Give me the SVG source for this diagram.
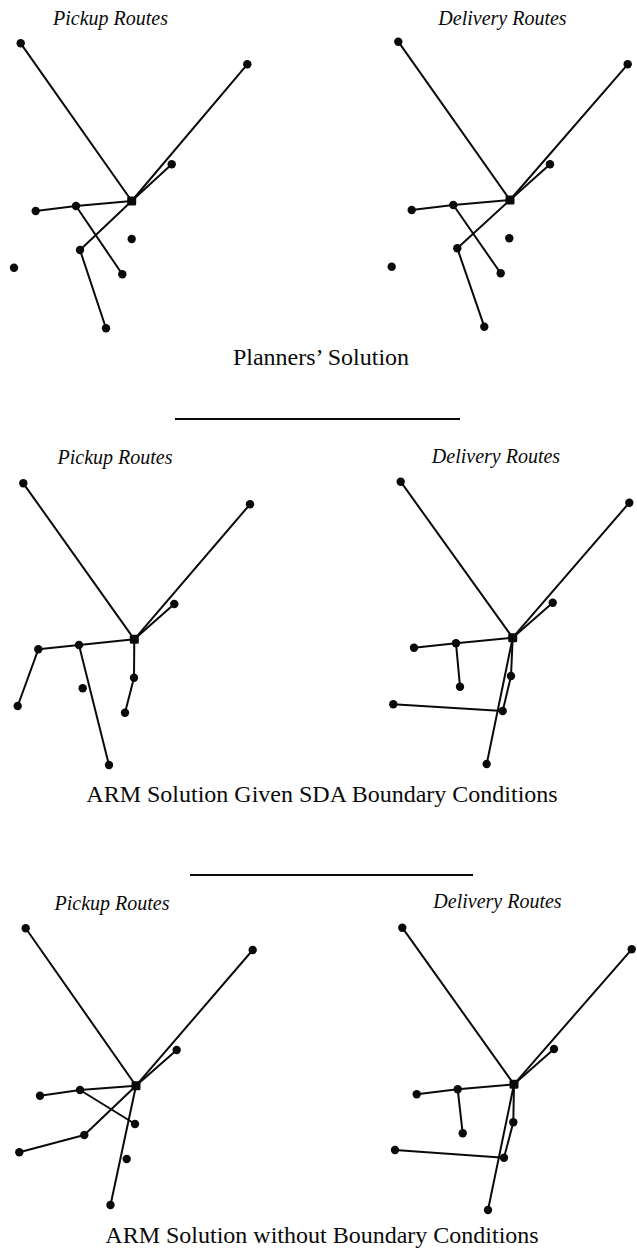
<svg xmlns="http://www.w3.org/2000/svg" width="637" height="1258" viewBox="0 0 637 1258">
  <style>
    .edge { stroke: #0a0a0a; stroke-width: 2; stroke-linecap: round; fill: none; }
    .dot { fill: #0a0a0a; }
    .depot { fill: #0a0a0a; }
    .head { font-family: "Liberation Serif", "Times New Roman", serif; font-style: italic; font-size: 20px; fill: #0a0a0a; text-anchor: middle; }
    .cap { font-family: "Liberation Serif", "Times New Roman", serif; font-size: 24px; fill: #0a0a0a; text-anchor: middle; }
    .rule { stroke: #0a0a0a; stroke-width: 2; }
  </style>
  <rect width="637" height="1258" fill="#fff"/>

  <!-- headings and captions -->
  <g id="labels">
    <text class="head" x="110.5" y="25">Pickup Routes</text>
    <text class="head" x="502.5" y="25">Delivery Routes</text>
    <text class="cap" x="321" y="365">Planners’ Solution</text>
    <line class="rule" x1="175" y1="419" x2="460" y2="419"/>
    <text class="head" x="115" y="464">Pickup Routes</text>
    <text class="head" x="496" y="463">Delivery Routes</text>
    <text class="cap" x="322" y="802">ARM Solution Given SDA Boundary Conditions</text>
    <line class="rule" x1="190" y1="875" x2="473" y2="875"/>
    <text class="head" x="112" y="910">Pickup Routes</text>
    <text class="head" x="497.5" y="908">Delivery Routes</text>
    <text class="cap" x="322" y="1243">ARM Solution without Boundary Conditions</text>
  </g>

  <!-- route segments -->
  <g id="connectors">
    <!-- planners: pickup -->
    <g id="p1-edges">
      <line class="edge" x1="20.7" y1="43.3" x2="131.7" y2="201"/>
      <line class="edge" x1="131.7" y1="201" x2="247.3" y2="64.3"/>
      <line class="edge" x1="131.7" y1="201" x2="171.7" y2="164.3"/>
      <line class="edge" x1="35.7" y1="211" x2="76" y2="206"/>
      <line class="edge" x1="76" y1="206" x2="131.7" y2="201"/>
      <line class="edge" x1="76" y1="206" x2="122.3" y2="274.3"/>
      <line class="edge" x1="131.7" y1="201" x2="80" y2="250"/>
      <line class="edge" x1="80" y1="250" x2="106" y2="328.3"/>
    </g>
    <!-- planners: delivery -->
    <g id="p2-edges">
      <line class="edge" x1="398.3" y1="41.7" x2="510" y2="200"/>
      <line class="edge" x1="510" y1="200" x2="627.7" y2="64.3"/>
      <line class="edge" x1="510" y1="200" x2="550" y2="164.3"/>
      <line class="edge" x1="411.7" y1="210" x2="453.3" y2="205"/>
      <line class="edge" x1="453.3" y1="205" x2="510" y2="200"/>
      <line class="edge" x1="453.3" y1="205" x2="500.7" y2="273.3"/>
      <line class="edge" x1="510" y1="200" x2="457.3" y2="248.3"/>
      <line class="edge" x1="457.3" y1="248.3" x2="484.3" y2="326.7"/>
    </g>
    <!-- ARM with SDA boundary: pickup -->
    <g id="p3-edges">
      <line class="edge" x1="23.3" y1="483.3" x2="134.3" y2="639.3"/>
      <line class="edge" x1="134.3" y1="639.3" x2="250" y2="504.3"/>
      <line class="edge" x1="134.3" y1="639.3" x2="174.3" y2="604"/>
      <line class="edge" x1="38.3" y1="649.3" x2="79" y2="645"/>
      <line class="edge" x1="79" y1="645" x2="134.3" y2="639.3"/>
      <line class="edge" x1="38.3" y1="649.3" x2="17.7" y2="706"/>
      <line class="edge" x1="79" y1="645" x2="109" y2="765"/>
      <line class="edge" x1="134.3" y1="639.3" x2="134" y2="677.7"/>
      <line class="edge" x1="134" y1="677.7" x2="125" y2="712.7"/>
    </g>
    <!-- ARM with SDA boundary: delivery -->
    <g id="p4-edges">
      <line class="edge" x1="400.7" y1="481.7" x2="512.7" y2="637.7"/>
      <line class="edge" x1="512.7" y1="637.7" x2="629.3" y2="502.7"/>
      <line class="edge" x1="512.7" y1="637.7" x2="552.7" y2="602.7"/>
      <line class="edge" x1="414" y1="647.7" x2="456" y2="643.3"/>
      <line class="edge" x1="456" y1="643.3" x2="512.7" y2="637.7"/>
      <line class="edge" x1="456" y1="643.3" x2="460" y2="686.7"/>
      <line class="edge" x1="393.3" y1="704.3" x2="502.7" y2="711"/>
      <line class="edge" x1="512.7" y1="637.7" x2="511" y2="676"/>
      <line class="edge" x1="511" y1="676" x2="502.7" y2="711"/>
      <line class="edge" x1="512.7" y1="637.7" x2="486.7" y2="764"/>
    </g>
    <!-- ARM without boundary: pickup -->
    <g id="p5-edges">
      <line class="edge" x1="25.7" y1="928.3" x2="136" y2="1085.7"/>
      <line class="edge" x1="136" y1="1085.7" x2="252.7" y2="950"/>
      <line class="edge" x1="136" y1="1085.7" x2="176.7" y2="1050"/>
      <line class="edge" x1="40" y1="1095.7" x2="80" y2="1090"/>
      <line class="edge" x1="80" y1="1090" x2="136" y2="1085.7"/>
      <line class="edge" x1="80" y1="1090" x2="135" y2="1124"/>
      <line class="edge" x1="136" y1="1085.7" x2="84.3" y2="1135"/>
      <line class="edge" x1="84.3" y1="1135" x2="19.3" y2="1152.3"/>
      <line class="edge" x1="136" y1="1085.7" x2="110.5" y2="1205"/>
    </g>
    <!-- ARM without boundary: delivery -->
    <g id="p6-edges">
      <line class="edge" x1="402.3" y1="927.7" x2="514" y2="1084.3"/>
      <line class="edge" x1="514" y1="1084.3" x2="631.7" y2="949.3"/>
      <line class="edge" x1="514" y1="1084.3" x2="554" y2="1049"/>
      <line class="edge" x1="416.7" y1="1094.3" x2="457.7" y2="1089.3"/>
      <line class="edge" x1="457.7" y1="1089.3" x2="514" y2="1084.3"/>
      <line class="edge" x1="457.7" y1="1089.3" x2="462.7" y2="1133.3"/>
      <line class="edge" x1="395" y1="1150" x2="504" y2="1157.7"/>
      <line class="edge" x1="514" y1="1084.3" x2="513.3" y2="1122.3"/>
      <line class="edge" x1="513.3" y1="1122.3" x2="504" y2="1157.7"/>
      <line class="edge" x1="514" y1="1084.3" x2="488" y2="1210"/>
    </g>
  </g>

  <!-- stops (circles) and depots (squares) -->
  <g id="p1-nodes">
    <g id="p1-A"><circle class="dot" cx="20.7" cy="43.3" r="4.2"/></g>
    <g id="p1-B"><circle class="dot" cx="247.3" cy="64.3" r="4.2"/></g>
    <g id="p1-C"><circle class="dot" cx="171.7" cy="164.3" r="4.2"/></g>
    <g id="p1-D"><rect class="depot" x="127.2" y="196.5" width="9" height="9" rx="1.5"/></g>
    <g id="p1-E"><circle class="dot" cx="35.7" cy="211" r="4.2"/></g>
    <g id="p1-F"><circle class="dot" cx="76" cy="206" r="4.2"/></g>
    <g id="p1-G"><circle class="dot" cx="131.7" cy="239" r="4.2"/></g>
    <g id="p1-H"><circle class="dot" cx="80" cy="250" r="4.2"/></g>
    <g id="p1-I"><circle class="dot" cx="14" cy="267.7" r="4.2"/></g>
    <g id="p1-J"><circle class="dot" cx="122.3" cy="274.3" r="4.2"/></g>
    <g id="p1-K"><circle class="dot" cx="106" cy="328.3" r="4.2"/></g>
  </g>
  <g id="p2-nodes">
    <g id="p2-A"><circle class="dot" cx="398.3" cy="41.7" r="4.2"/></g>
    <g id="p2-B"><circle class="dot" cx="627.7" cy="64.3" r="4.2"/></g>
    <g id="p2-C"><circle class="dot" cx="550" cy="164.3" r="4.2"/></g>
    <g id="p2-D"><rect class="depot" x="505.5" y="195.5" width="9" height="9" rx="1.5"/></g>
    <g id="p2-E"><circle class="dot" cx="411.7" cy="210" r="4.2"/></g>
    <g id="p2-F"><circle class="dot" cx="453.3" cy="205" r="4.2"/></g>
    <g id="p2-G"><circle class="dot" cx="509.3" cy="238.3" r="4.2"/></g>
    <g id="p2-H"><circle class="dot" cx="457.3" cy="248.3" r="4.2"/></g>
    <g id="p2-I"><circle class="dot" cx="391.7" cy="266.7" r="4.2"/></g>
    <g id="p2-J"><circle class="dot" cx="500.7" cy="273.3" r="4.2"/></g>
    <g id="p2-K"><circle class="dot" cx="484.3" cy="326.7" r="4.2"/></g>
  </g>
  <g id="p3-nodes">
    <g id="p3-A"><circle class="dot" cx="23.3" cy="483.3" r="4.2"/></g>
    <g id="p3-B"><circle class="dot" cx="250" cy="504.3" r="4.2"/></g>
    <g id="p3-C"><circle class="dot" cx="174.3" cy="604" r="4.2"/></g>
    <g id="p3-D"><rect class="depot" x="129.8" y="634.8" width="9" height="9" rx="1.5"/></g>
    <g id="p3-E"><circle class="dot" cx="38.3" cy="649.3" r="4.2"/></g>
    <g id="p3-F"><circle class="dot" cx="79" cy="645" r="4.2"/></g>
    <g id="p3-G"><circle class="dot" cx="134" cy="677.7" r="4.2"/></g>
    <g id="p3-H"><circle class="dot" cx="82.7" cy="688.3" r="4.2"/></g>
    <g id="p3-I"><circle class="dot" cx="17.7" cy="706" r="4.2"/></g>
    <g id="p3-J"><circle class="dot" cx="125" cy="712.7" r="4.2"/></g>
    <g id="p3-K"><circle class="dot" cx="109" cy="765" r="4.2"/></g>
  </g>
  <g id="p4-nodes">
    <g id="p4-A"><circle class="dot" cx="400.7" cy="481.7" r="4.2"/></g>
    <g id="p4-B"><circle class="dot" cx="629.3" cy="502.7" r="4.2"/></g>
    <g id="p4-C"><circle class="dot" cx="552.7" cy="602.7" r="4.2"/></g>
    <g id="p4-D"><rect class="depot" x="508.2" y="633.2" width="9" height="9" rx="1.5"/></g>
    <g id="p4-E"><circle class="dot" cx="414" cy="647.7" r="4.2"/></g>
    <g id="p4-F"><circle class="dot" cx="456" cy="643.3" r="4.2"/></g>
    <g id="p4-G"><circle class="dot" cx="511" cy="676" r="4.2"/></g>
    <g id="p4-H"><circle class="dot" cx="460" cy="686.7" r="4.2"/></g>
    <g id="p4-I"><circle class="dot" cx="393.3" cy="704.3" r="4.2"/></g>
    <g id="p4-J"><circle class="dot" cx="502.7" cy="711" r="4.2"/></g>
    <g id="p4-K"><circle class="dot" cx="486.7" cy="764" r="4.2"/></g>
  </g>
  <g id="p5-nodes">
    <g id="p5-A"><circle class="dot" cx="25.7" cy="928.3" r="4.2"/></g>
    <g id="p5-B"><circle class="dot" cx="252.7" cy="950" r="4.2"/></g>
    <g id="p5-C"><circle class="dot" cx="176.7" cy="1050" r="4.2"/></g>
    <g id="p5-D"><rect class="depot" x="131.5" y="1081.2" width="9" height="9" rx="1.5"/></g>
    <g id="p5-E"><circle class="dot" cx="40" cy="1095.7" r="4.2"/></g>
    <g id="p5-F"><circle class="dot" cx="80" cy="1090" r="4.2"/></g>
    <g id="p5-G"><circle class="dot" cx="135" cy="1124" r="4.2"/></g>
    <g id="p5-H"><circle class="dot" cx="84.3" cy="1135" r="4.2"/></g>
    <g id="p5-I"><circle class="dot" cx="19.3" cy="1152.3" r="4.2"/></g>
    <g id="p5-J"><circle class="dot" cx="126.7" cy="1159" r="4.2"/></g>
    <g id="p5-K"><circle class="dot" cx="110.5" cy="1205" r="4.2"/></g>
  </g>
  <g id="p6-nodes">
    <g id="p6-A"><circle class="dot" cx="402.3" cy="927.7" r="4.2"/></g>
    <g id="p6-B"><circle class="dot" cx="631.7" cy="949.3" r="4.2"/></g>
    <g id="p6-C"><circle class="dot" cx="554" cy="1049" r="4.2"/></g>
    <g id="p6-D"><rect class="depot" x="509.5" y="1079.8" width="9" height="9" rx="1.5"/></g>
    <g id="p6-E"><circle class="dot" cx="416.7" cy="1094.3" r="4.2"/></g>
    <g id="p6-F"><circle class="dot" cx="457.7" cy="1089.3" r="4.2"/></g>
    <g id="p6-G"><circle class="dot" cx="513.3" cy="1122.3" r="4.2"/></g>
    <g id="p6-H"><circle class="dot" cx="462.7" cy="1133.3" r="4.2"/></g>
    <g id="p6-I"><circle class="dot" cx="395" cy="1150" r="4.2"/></g>
    <g id="p6-J"><circle class="dot" cx="504" cy="1157.7" r="4.2"/></g>
    <g id="p6-K"><circle class="dot" cx="488" cy="1210" r="4.2"/></g>
  </g>
</svg>
